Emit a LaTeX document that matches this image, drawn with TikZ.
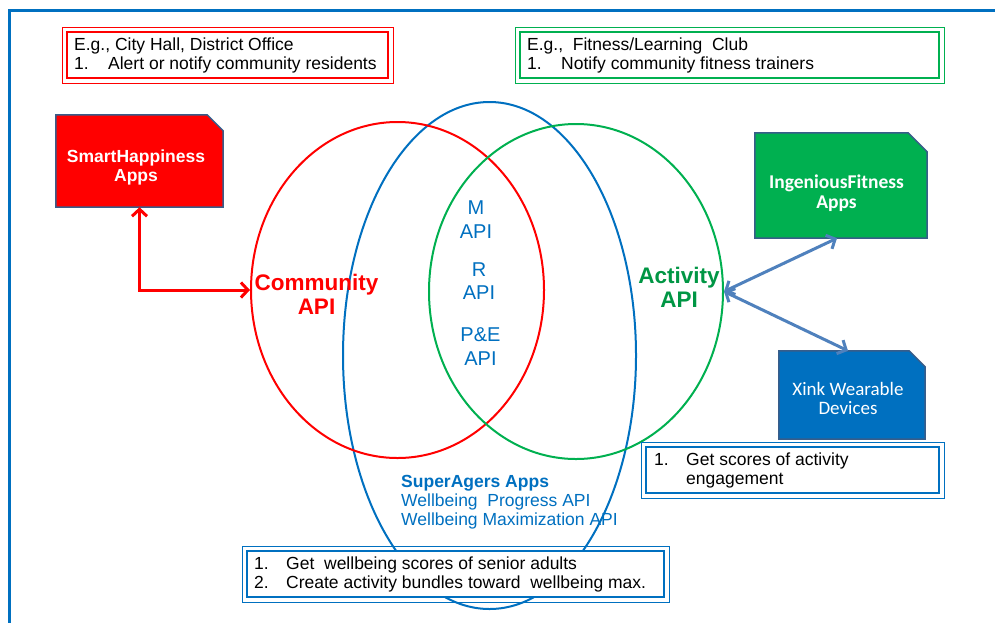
\documentclass[tikz,border=0pt]{standalone}
\usepackage{fontspec}
\setmainfont{Liberation Sans}
\newfontfamily\calfont{Carlito}
\usetikzlibrary{shapes.geometric,arrows.meta}

\definecolor{cred}{HTML}{FF0000}
\definecolor{cgreen}{HTML}{00B050}
\definecolor{cblue}{HTML}{0070C0}
\definecolor{linkblue}{HTML}{4F81BD}
\definecolor{appedge}{HTML}{385D8A}

% number column of the note lists
\newcommand\itemno[2][34pt]{\makebox[#1][l]{#2}}
% app box with its top right corner cut off: frame node, fill colour, cut size
\newcommand\snipbox[3]{%
  \path[fill=#2, draw=appedge, line width=1.5pt, line join=miter]
    (#1.south west) -- (#1.north west) -- ([xshift=-#3]#1.north east)
    -- ([yshift=-#3]#1.north east) -- (#1.south east) -- cycle;}
% thin outer line of a double-framed note
\newcommand\outerframe[2]{%
  \draw[#2, line width=1pt] ([shift={(-4pt,4pt)}]#1.north west)
    rectangle ([shift={(4pt,-4pt)}]#1.south east);}

\begin{document}
\begin{tikzpicture}[x=1pt,y=-1pt,
  venn/.style={ellipse, draw, line width=2pt, inner sep=0pt},
  noteframe/.style={rectangle, draw, line width=2pt, fill=white,
    inner sep=0pt, minimum height=46pt},
  notetext/.style={anchor=west, align=left, inner sep=0pt, text=black,
    font=\fontsize{17.5}{19}\selectfont},
  appframe/.style={rectangle, inner sep=0pt},
  apptext/.style={text=white, align=center, inner sep=0pt},
  apilabel/.style={text=cblue, align=center, inner sep=0pt,
    font=\fontsize{20}{24}\selectfont},
  biglabel/.style={align=center, inner sep=0pt,
    font=\bfseries\fontsize{22.5}{24}\selectfont},
  redlink/.style={draw=cred, line width=3pt,
    {Straight Barb[length=7pt,width=15pt]}-{Straight Barb[length=7pt,width=15pt]}},
  bluelink/.style={draw=linkblue, line width=3pt,
    {Straight Barb[length=7pt,width=15pt]}-{Straight Barb[length=7pt,width=15pt]}}
]
\useasboundingbox (0,0) rectangle (995,622);
\fill[white] (0,0) rectangle (995,622);

% page frame
\draw[cblue, line width=2.5pt] (9.5,623) -- (9.5,10.5) -- (996,10.5);

% the three overlapping API domains
\node[venn, draw=cblue, minimum width=293pt, minimum height=507pt] (wellbeing) at (489.5,355.5) {};
\node[venn, draw=cred, minimum width=293pt, minimum height=336pt] (comm) at (397.5,290) {};
\node[venn, draw=cgreen, minimum width=294pt, minimum height=335pt] (act) at (576,291.5) {};

% domain labels
\node[biglabel, text=cred] (commlabel) at (316.5,294) {Community\\API};
\node[biglabel, text=cgreen!85!black] (actlabel) at (679,287) {Activity\\API};
\node[apilabel] (mapi) at (476,219.5) {M\\API};
\node[apilabel] (rapi) at (479,281.5) {R\\[-1pt]API};
\node[apilabel] (peapi) at (480.5,347) {P\&E\\API};
\node[anchor=west, align=left, text=cblue, inner sep=0pt,
      font=\fontsize{17.5}{19}\selectfont] (superagers) at (401,502.6)
  {\textbf{SuperAgers Apps}\\Wellbeing\ \ Progress API\\Wellbeing Maximization API};

% notes
\node[noteframe, draw=cred, minimum width=321pt] (cityhall) at (227.5,55) {};
\outerframe{cityhall}{cred}
\node[notetext] (cityhalltext) at ([xshift=8pt]cityhall.west)
  {E.g., City Hall, District Office\\\itemno{1.}Alert or notify community residents};

\node[noteframe, draw=cgreen, minimum width=419pt] (club) at (729.5,55) {};
\outerframe{club}{cgreen}
\node[notetext] (clubtext) at ([xshift=8pt]club.west)
  {E.g.,\ \ Fitness/Learning\ \ Club\\\itemno{1.}Notify community fitness trainers};

\node[noteframe, draw=cblue, minimum width=293pt] (engage) at (792.5,470) {};
\outerframe{engage}{cblue}
\node[notetext] (engagetext) at ([xshift=9pt]engage.west)
  {\itemno[32pt]{1.}Get scores of activity\\\hspace*{32pt}engagement};

\node[noteframe, draw=cblue, minimum width=417pt] (scores) at (455.5,574) {};
\outerframe{scores}{cblue}
\node[notetext] (scorestext) at ([xshift=8pt]scores.west)
  {\itemno[32pt]{1.}Get\ \ wellbeing scores of senior adults\\
   \itemno[32pt]{2.}Create activity bundles toward\ \ wellbeing max.};

% client apps and devices
\node[appframe, minimum width=167pt, minimum height=92pt] (hap) at (139.5,161) {};
\snipbox{hap}{cred}{16pt}
\node[apptext, font=\bfseries\fontsize{17.5}{19}\selectfont] (haptext) at (136,167.4)
  {SmartHappiness\\Apps};

\node[appframe, minimum width=172pt, minimum height=105pt] (ing) at (841,185.5) {};
\snipbox{ing}{cgreen}{19pt}
\node[apptext, font=\calfont\bfseries\fontsize{19.5}{20}\selectfont] (ingtext) at (836.5,193.5)
  {IngeniousFitness\\Apps};

\node[appframe, minimum width=146pt, minimum height=88pt] (xink) at (852,395) {};
\snipbox{xink}{cblue}{16pt}
\node[apptext, font=\calfont\fontsize{19}{19}\selectfont] (xinktext) at (848,398.5)
  {Xink Wearable\\Devices};

% connectors
\draw[redlink] (hap.south) |- (comm.west);
\draw[bluelink] (act.east) -- ([xshift=-4pt]ing.south);
\draw[bluelink] (act.east) -- ([xshift=-4pt]xink.north);
\end{tikzpicture}
\end{document}
